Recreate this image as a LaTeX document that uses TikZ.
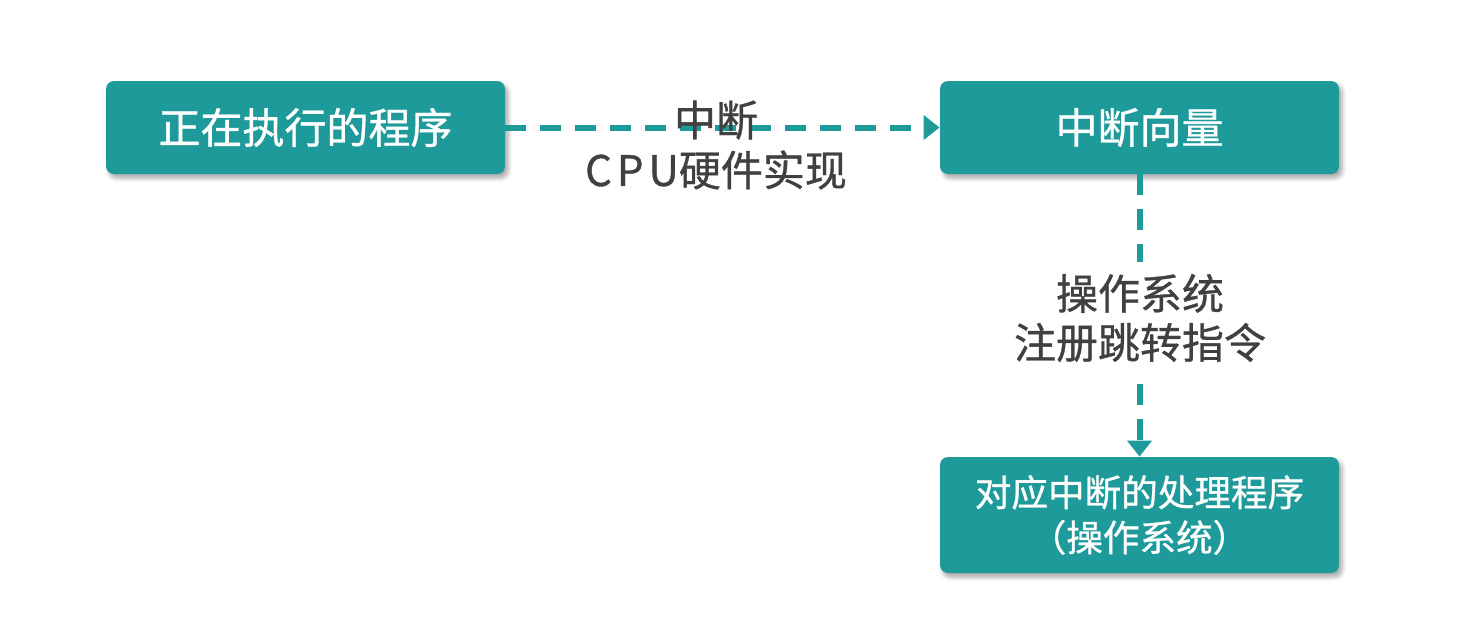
\documentclass[tikz,border=0pt]{standalone}
\usepackage{fontspec}
\setmainfont{Noto Sans CJK SC}[FakeBold=0.8]
\usetikzlibrary{arrows.meta,shadows.blur}
\definecolor{teal1}{HTML}{1F9A9B}
\definecolor{lbl}{HTML}{404040}
\tikzset{
  box/.style={draw=none, fill=teal1, rounded corners=4pt, text=white,
    minimum width=199.5pt, align=center, inner sep=0pt,
    blur shadow={shadow xshift=1.5pt, shadow yshift=-2pt, shadow blur steps=6, shadow opacity=35}},
  conn/.style={teal1, line width=3pt, dash pattern=on 10.5pt off 7pt,
    -{Triangle[length=8pt,width=12pt]}},
  lab/.style={text=lbl, align=center, inner sep=2pt}
}
\begin{document}
\begin{tikzpicture}[x=0.5pt,y=-0.5pt]
\useasboundingbox (0,0) rectangle (1483,638);
\node[box, minimum height=46.5pt, font=\fontsize{21pt}{25pt}\selectfont] (prog) at (305.5,127.5) {正在执行的程序};
\node[box, minimum height=46.5pt, font=\fontsize{21pt}{25pt}\selectfont] (vec) at (1139.5,127.5) {中断向量};
\node[box, minimum height=58pt, font=\fontsize{18.3pt}{22.5pt}\selectfont] (handler) at (1139.5,515) {对应中断的处理程序\\（操作系统）};
\draw[conn] (prog.east) -- (vec.west);
\draw[conn] (vec.south) -- (handler.north);
\node[lab, font=\fontsize{21pt}{25pt}\selectfont] (l1) at (716,145) {中断\\{\addfontfeature{LetterSpace=12}CPU}硬件实现};
\node[lab, fill=white, inner sep=6pt, font=\fontsize{21pt}{24.5pt}\selectfont] (l2) at (1140,318) {操作系统\\注册跳转指令};
\end{tikzpicture}
\end{document}
